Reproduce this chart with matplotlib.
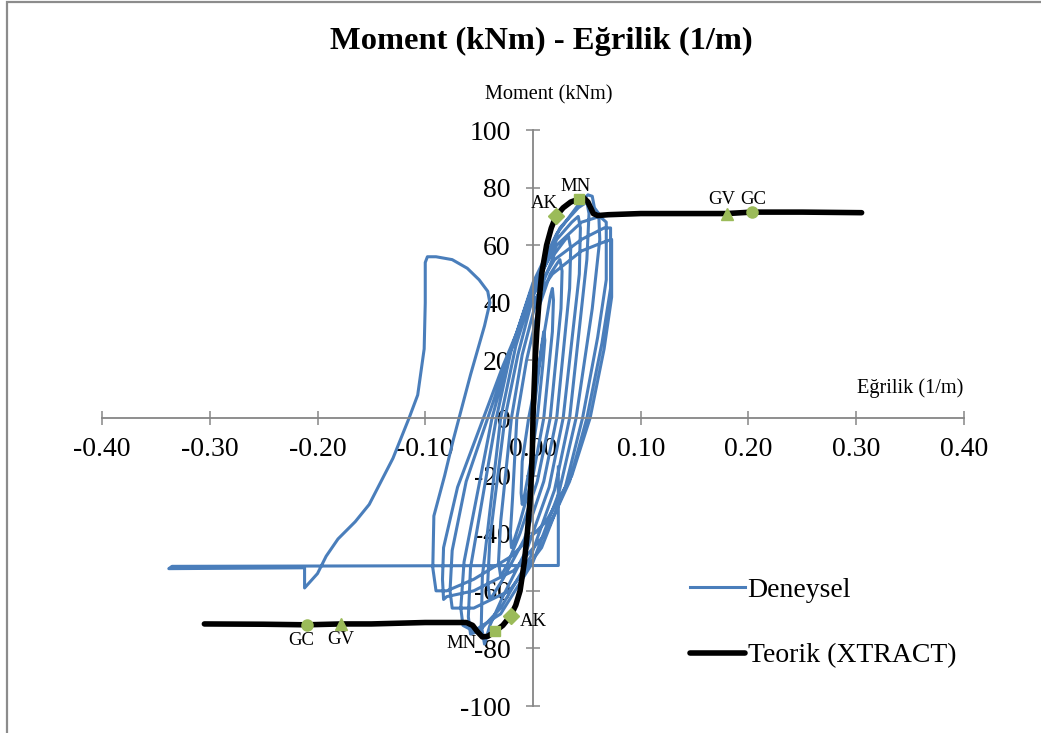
import matplotlib
matplotlib.use('Agg')
import matplotlib.pyplot as plt
from matplotlib.patches import Rectangle

plt.rcParams.update({
    'font.family': ['Liberation Serif', 'DejaVu Serif'],
    'font.size': 20,
    'axes.unicode_minus': False,
})

BLUE = '#4A7EBB'
GREEN = '#9BBB59'
AXIS_GREY = '#868686'

cycle_1 = [(0.000, 0), (0.004, 12), (0.008, 25), (0.010, 30), (0.011, 27), (0.009, 18), (0.004, 0),
           (-0.002, -15), (-0.008, -27), (-0.010, -30)]
cycle_2 = [(-0.011, -26), (-0.010, -15), (-0.004, 0), (0.004, 15), (0.012, 33), (0.016, 42), (0.018, 45),
           (0.019, 41), (0.018, 30), (0.010, 0), (0.000, -20), (-0.012, -36), (-0.018, -43), (-0.020, -45)]
cycle_3 = [(-0.021, -40), (-0.019, -28), (-0.015, 0), (-0.006, 20), (0.005, 38), (0.016, 50), (0.023, 54),
           (0.025, 55), (0.027, 51), (0.026, 38), (0.016, 0), (0.004, -22), (-0.012, -40), (-0.024, -51),
           (-0.030, -55)]
cycle_4 = [(-0.032, -50), (-0.030, -36), (-0.020, 0), (-0.010, 22), (0.004, 42), (0.020, 57), (0.030, 62),
           (0.033, 63), (0.035, 59), (0.034, 45), (0.022, 0), (0.010, -22), (-0.008, -42), (-0.028, -56),
           (-0.038, -62), (-0.040, -63)]
cycle_5 = [(-0.042, -57), (-0.040, -42), (-0.026, 0), (-0.014, 22), (0.002, 45), (0.022, 62), (0.036, 68),
           (0.042, 70), (0.044, 66), (0.043, 50), (0.028, 0), (0.015, -24), (-0.005, -45), (-0.028, -62),
           (-0.040, -72), (-0.045, -78.5)]
cycle_6 = [(-0.048, -72), (-0.047, -55), (-0.030, 0), (-0.016, 25), (0.003, 48), (0.025, 66), (0.042, 73),
           (0.050, 75), (0.052, 71), (0.050, 55), (0.034, 0), (0.020, -25), (-0.002, -48), (-0.030, -66),
           (-0.050, -74), (-0.058, -75)]
cycle_7 = [(-0.060, -69), (-0.058, -52), (-0.034, 0), (-0.020, 24), (0.000, 47), (0.022, 64), (0.042, 74),
           (0.051, 77.5), (0.055, 77), (0.057, 73), (0.061, 71), (0.062, 62), (0.055, 38), (0.040, 0),
           (0.024, -26), (0.000, -50), (-0.030, -68), (-0.055, -74), (-0.065, -72)]
cycle_8 = [(-0.067, -66), (-0.064, -50), (-0.038, 0), (-0.022, 22), (-0.002, 44), (0.022, 60), (0.045, 68),
           (0.062, 70), (0.068, 68), (0.068, 48), (0.060, 28), (0.046, 0), (0.030, -24), (0.008, -45),
           (-0.022, -60), (-0.055, -66), (-0.075, -66)]
cycle_9 = [(-0.077, -60), (-0.075, -46), (-0.062, -22), (-0.042, 0), (-0.024, 20), (-0.004, 40), (0.020, 55),
           (0.045, 62), (0.066, 66), (0.072, 66), (0.072, 45), (0.064, 26), (0.050, 0), (0.034, -22),
           (0.012, -40), (-0.018, -53), (-0.055, -60), (-0.080, -62), (-0.083, -63)]
cycle_10 = [(-0.084, -56), (-0.083, -45), (-0.070, -24), (-0.046, 0), (-0.028, 18), (-0.008, 36), (0.018, 50),
            (0.045, 58), (0.065, 61), (0.073, 62), (0.073, 42), (0.066, 24), (0.053, 0), (0.036, -20),
            (0.012, -36), (-0.020, -48), (-0.055, -56), (-0.080, -60), (-0.090, -60)]
# final cycle: large negative excursion and end of test
cycle_11 = [(-0.093, -52), (-0.092, -34), (-0.082, -20), (-0.074, -7.6), (-0.058, 15), (-0.045, 32),
            (-0.040, 40), (-0.042, 44), (-0.050, 48), (-0.061, 52), (-0.075, 55), (-0.090, 56),
            (-0.098, 56), (-0.100, 54), (-0.100, 40), (-0.101, 24), (-0.107, 8), (-0.115, 0),
            (-0.130, -14), (-0.152, -30), (-0.165, -36), (-0.181, -42), (-0.192, -48), (-0.200, -54),
            (-0.212, -59), (-0.212, -52), (-0.338, -52.3), (-0.335, -51.5), (0.0235, -51.2), (0.0235, -17)]
cycles = [cycle_1, cycle_2, cycle_3, cycle_4, cycle_5, cycle_6, cycle_7, cycle_8, cycle_9, cycle_10, cycle_11]

# XTRACT theoretical curve
theo_curv = [
    -0.305, -0.25, -0.21, -0.178, -0.15, -0.10, -0.062, -0.056, -0.052, -0.047, -0.042, -0.035,
    -0.028, -0.0206, -0.016, -0.012, -0.008, -0.0053, -0.003, -0.0015, -0.0005, 0.0,
    0.001, 0.002, 0.0035, 0.0055, 0.008, 0.0126, 0.017, 0.0212, 0.028, 0.035, 0.0425, 0.047,
    0.051, 0.056, 0.060, 0.070, 0.10, 0.15, 0.18, 0.203, 0.25, 0.305,
]
theo_moment = [
    -71.5, -71.6, -71.8, -71.5, -71.5, -71.0, -71.0, -72.0, -74.0, -76.0, -75.8, -74.0,
    -72.0, -68.6, -65.0, -60.0, -50.0, -40.0, -30.0, -20.0, -10.0, 0.0,
    10.0, 20.0, 30.0, 40.0, 50.0, 60.0, 66.0, 70.0, 73.0, 75.0, 76.0, 76.5,
    75.0, 71.0, 70.3, 70.6, 71.0, 71.0, 71.0, 71.5, 71.5, 71.3,
]

# characteristic points on the XTRACT curve
pt_names = ['AK', 'MN', 'GV', 'GC', 'AK', 'MN', 'GV', 'GC']
pt_curv = [0.0212, 0.0425, 0.180, 0.203, -0.0206, -0.035, -0.178, -0.210]
pt_moment = [70.0, 76.0, 71.0, 71.5, -68.6, -74.0, -71.5, -71.8]
pt_marker = ['D', 's', '^', 'o', 'D', 's', '^', 'o']
# label offsets in points relative to the marker
pt_offset = [(-8, 9), (-2, 9), (-4, 10), (1, 9), (16, -4), (-24, -9), (0, -11), (-4, -11)]

exp_curv = [p[0] for c in cycles for p in c]
exp_moment = [p[1] for c in cycles for p in c]

fig = plt.figure(figsize=(10.41, 7.33), dpi=100)
ax = fig.add_axes([0.098, 0.0368, 0.828, 0.7858])

ax.plot(exp_curv, exp_moment, color=BLUE, lw=2.2, label='Deneysel', zorder=2,
        solid_joinstyle='round')
ax.plot(theo_curv, theo_moment, color='black', lw=4.0, label='Teorik (XTRACT)', zorder=3,
        solid_capstyle='round', solid_joinstyle='round')
for name, cx, my, mk, off in zip(pt_names, pt_curv, pt_moment, pt_marker, pt_offset):
    ax.plot(cx, my, marker=mk, color=GREEN, ms=8 if mk != 's' else 7.5, ls='none', zorder=4)
    ax.annotate(name, (cx, my), xytext=off, textcoords='offset points',
                ha='center', va='center', fontsize=13.5)

ax.set_xlim(-0.40, 0.40)
ax.set_ylim(-100, 100)
ax.set_xticks([-0.4, -0.3, -0.2, -0.1, 0.0, 0.1, 0.2, 0.3, 0.4])
ax.set_xticklabels([f'{v:.2f}' for v in ax.get_xticks()])
ax.set_yticks(range(-100, 101, 20))

for s in ['top', 'right']:
    ax.spines[s].set_visible(False)
ax.spines['left'].set_position(('data', 0))
ax.spines['bottom'].set_position(('data', 0))
for s in ['left', 'bottom']:
    ax.spines[s].set_color(AXIS_GREY)
    ax.spines[s].set_linewidth(1.3)
ax.tick_params(axis='both', direction='inout', length=10, width=1.1, color=AXIS_GREY,
               labelsize=20)
ax.tick_params(axis='x', pad=9)
ax.tick_params(axis='y', pad=11)
ax.patch.set_alpha(0)

ax.legend(loc='upper left', bbox_to_anchor=(0.669, 0.243), frameon=False, fontsize=20,
          handlelength=1.98, handletextpad=0.1, labelspacing=1.46, borderaxespad=0)

fig.text(0.52, 0.943, 'Moment (kNm) - Eğrilik (1/m)', ha='center', va='center',
         fontsize=23.4, fontweight='bold')
fig.text(0.527, 0.8705, 'Moment (kNm)', ha='center', va='center', fontsize=14.6)
fig.text(0.874, 0.47, 'Eğrilik (1/m)', ha='center', va='center', fontsize=14.6)

fig.patches.append(Rectangle((7 / 1041, -0.2), 1.2, 1.2 - 2 / 733, transform=fig.transFigure,
                             fill=False, edgecolor='#8c8c8c', lw=1.6, zorder=0))

fig.savefig('out.png', dpi=100, facecolor='white')
